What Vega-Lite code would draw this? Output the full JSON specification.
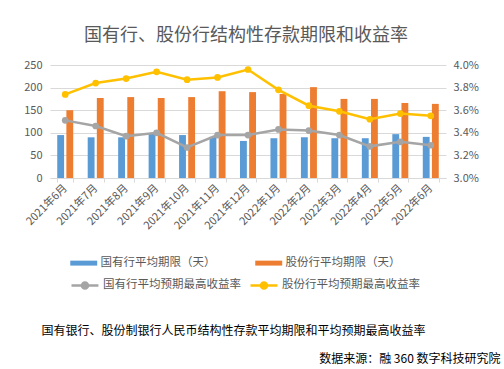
{
  "$schema": "https://vega.github.io/schema/vega-lite/v6.json",
  "width": 396,
  "height": 113,
  "autosize": {"type": "none"},
  "padding": {"left": 50, "top": 65, "right": 58, "bottom": 191},
  "background": "white",
  "config": {
    "font": "Noto Sans CJK SC",
    "view": {"stroke": null}
  },
  "title": {
    "text": "国有行、股份行结构性存款期限和收益率",
    "fontSize": 18,
    "fontWeight": "normal",
    "color": "#595959",
    "anchor": "middle",
    "frame": "group",
    "offset": 14,
    "dx": -2
  },
  "datasets": {
    "bars": [
      {"month": "2021年6月", "series": "国有行平均期限（天）", "days": 95},
      {"month": "2021年6月", "series": "股份行平均期限（天）", "days": 150},
      {"month": "2021年7月", "series": "国有行平均期限（天）", "days": 90},
      {"month": "2021年7月", "series": "股份行平均期限（天）", "days": 177},
      {"month": "2021年8月", "series": "国有行平均期限（天）", "days": 90},
      {"month": "2021年8月", "series": "股份行平均期限（天）", "days": 179},
      {"month": "2021年9月", "series": "国有行平均期限（天）", "days": 99},
      {"month": "2021年9月", "series": "股份行平均期限（天）", "days": 177},
      {"month": "2021年10月", "series": "国有行平均期限（天）", "days": 95},
      {"month": "2021年10月", "series": "股份行平均期限（天）", "days": 179},
      {"month": "2021年11月", "series": "国有行平均期限（天）", "days": 91},
      {"month": "2021年11月", "series": "股份行平均期限（天）", "days": 192},
      {"month": "2021年12月", "series": "国有行平均期限（天）", "days": 82},
      {"month": "2021年12月", "series": "股份行平均期限（天）", "days": 190},
      {"month": "2022年1月", "series": "国有行平均期限（天）", "days": 88},
      {"month": "2022年1月", "series": "股份行平均期限（天）", "days": 186},
      {"month": "2022年2月", "series": "国有行平均期限（天）", "days": 90},
      {"month": "2022年2月", "series": "股份行平均期限（天）", "days": 201},
      {"month": "2022年3月", "series": "国有行平均期限（天）", "days": 88},
      {"month": "2022年3月", "series": "股份行平均期限（天）", "days": 175},
      {"month": "2022年4月", "series": "国有行平均期限（天）", "days": 88},
      {"month": "2022年4月", "series": "股份行平均期限（天）", "days": 175},
      {"month": "2022年5月", "series": "国有行平均期限（天）", "days": 97},
      {"month": "2022年5月", "series": "股份行平均期限（天）", "days": 166},
      {"month": "2022年6月", "series": "国有行平均期限（天）", "days": 91},
      {"month": "2022年6月", "series": "股份行平均期限（天）", "days": 164}
    ],
    "rates": [
      {"month": "2021年6月", "series": "国有行平均预期最高收益率", "rate": 0.0351},
      {"month": "2021年7月", "series": "国有行平均预期最高收益率", "rate": 0.0346},
      {"month": "2021年8月", "series": "国有行平均预期最高收益率", "rate": 0.0337},
      {"month": "2021年9月", "series": "国有行平均预期最高收益率", "rate": 0.034},
      {"month": "2021年10月", "series": "国有行平均预期最高收益率", "rate": 0.0327},
      {"month": "2021年11月", "series": "国有行平均预期最高收益率", "rate": 0.0338},
      {"month": "2021年12月", "series": "国有行平均预期最高收益率", "rate": 0.0338},
      {"month": "2022年1月", "series": "国有行平均预期最高收益率", "rate": 0.0343},
      {"month": "2022年2月", "series": "国有行平均预期最高收益率", "rate": 0.0342},
      {"month": "2022年3月", "series": "国有行平均预期最高收益率", "rate": 0.0338},
      {"month": "2022年4月", "series": "国有行平均预期最高收益率", "rate": 0.0328},
      {"month": "2022年5月", "series": "国有行平均预期最高收益率", "rate": 0.0332},
      {"month": "2022年6月", "series": "国有行平均预期最高收益率", "rate": 0.0329},
      {"month": "2021年6月", "series": "股份行平均预期最高收益率", "rate": 0.0374},
      {"month": "2021年7月", "series": "股份行平均预期最高收益率", "rate": 0.0384},
      {"month": "2021年8月", "series": "股份行平均预期最高收益率", "rate": 0.0388},
      {"month": "2021年9月", "series": "股份行平均预期最高收益率", "rate": 0.0394},
      {"month": "2021年10月", "series": "股份行平均预期最高收益率", "rate": 0.0387},
      {"month": "2021年11月", "series": "股份行平均预期最高收益率", "rate": 0.0389},
      {"month": "2021年12月", "series": "股份行平均预期最高收益率", "rate": 0.0396},
      {"month": "2022年1月", "series": "股份行平均预期最高收益率", "rate": 0.0378},
      {"month": "2022年2月", "series": "股份行平均预期最高收益率", "rate": 0.0364},
      {"month": "2022年3月", "series": "股份行平均预期最高收益率", "rate": 0.0359},
      {"month": "2022年4月", "series": "股份行平均预期最高收益率", "rate": 0.0352},
      {"month": "2022年5月", "series": "股份行平均预期最高收益率", "rate": 0.0357},
      {"month": "2022年6月", "series": "股份行平均预期最高收益率", "rate": 0.0355}
    ]
  },
  "layer": [
    {
      "data": {"name": "bars"},
      "mark": {"type": "bar"},
      "encoding": {
        "x": {
          "field": "month",
          "type": "nominal",
          "sort": null,
          "scale": {"paddingInner": 0.475, "paddingOuter": 0.2375},
          "axis": {
            "tickBand": "extent",
            "labelAngle": -45,
            "labelAlign": "right",
            "labelBaseline": "middle",
            "labelFontSize": 11,
            "labelColor": "#595959",
            "labelPadding": 4,
            "tickSize": 4,
            "tickColor": "#D9D9D9",
            "domainColor": "#D9D9D9",
            "grid": false,
            "title": "国有银行、股份制银行人民币结构性存款平均期限和平均预期最高收益率",
            "titleFontSize": 12,
            "titleFontWeight": "normal",
            "titleColor": "#000000",
            "titleX": 183,
            "titleY": 152,
            "titleAlign": "center",
            "titleBaseline": "middle"
          }
        },
        "xOffset": {
          "field": "series",
          "type": "nominal",
          "scale": {"paddingInner": 0.25, "paddingOuter": 0}
        },
        "y": {
          "field": "days",
          "type": "quantitative",
          "scale": {"domain": [0, 250]},
          "axis": {
            "values": [0, 50, 100, 150, 200, 250],
            "domain": false,
            "ticks": false,
            "gridColor": "#D9D9D9",
            "labelFontSize": 11,
            "labelColor": "#595959",
            "labelPadding": 8,
            "title": null
          }
        },
        "fill": {
          "field": "series",
          "type": "nominal",
          "scale": {
            "domain": ["国有行平均期限（天）", "股份行平均期限（天）"],
            "range": ["#5B9BD5", "#ED7D31"]
          },
          "legend": {
            "orient": "none",
            "direction": "horizontal",
            "legendX": 20,
            "legendY": 192,
            "columns": 2,
            "columnPadding": 39,
            "title": null,
            "symbolSize": 121,
            "symbolType": "M-1,-0.45H3.9V0.45H-1Z",
            "symbolStrokeWidth": 0,
            "labelOffset": 19,
            "labelFontSize": 11.5,
            "labelColor": "#595959"
          }
        }
      }
    },
    {
      "data": {"name": "rates"},
      "mark": {"type": "line", "strokeWidth": 2.5, "point": {"filled": true, "size": 45}},
      "encoding": {
        "x": {"field": "month", "type": "nominal", "sort": null},
        "y": {
          "field": "rate",
          "type": "quantitative",
          "scale": {"domain": [0.03, 0.04]},
          "axis": {
            "orient": "right",
            "values": [0.03, 0.032, 0.034, 0.036, 0.038, 0.04],
            "format": ".1%",
            "domain": false,
            "ticks": false,
            "grid": false,
            "labelFontSize": 11,
            "labelColor": "#595959",
            "labelPadding": 7,
            "title": "数据来源：融 360 数字科技研究院",
            "titleAngle": 0,
            "titleFontSize": 12,
            "titleFontWeight": "normal",
            "titleColor": "#000000",
            "titleX": 54,
            "titleY": 293,
            "titleAlign": "right",
            "titleBaseline": "middle"
          }
        },
        "color": {
          "field": "series",
          "type": "nominal",
          "scale": {
            "domain": ["国有行平均预期最高收益率", "股份行平均预期最高收益率"],
            "range": ["#A5A5A5", "#FFC000"]
          },
          "legend": {
            "orient": "none",
            "direction": "horizontal",
            "legendX": 20,
            "legendY": 213,
            "columns": 2,
            "columnPadding": 4,
            "title": null,
            "symbolSize": 121,
            "symbolType": "M-1,0H3.9M0.9,0A0.55,0.55,0,1,1,2,0A0.55,0.55,0,1,1,0.9,0Z",
            "symbolStrokeWidth": 2.5,
            "labelOffset": 19,
            "labelFontSize": 11.5,
            "labelColor": "#595959"
          }
        }
      }
    }
  ],
  "resolve": {"scale": {"y": "independent"}}
}
